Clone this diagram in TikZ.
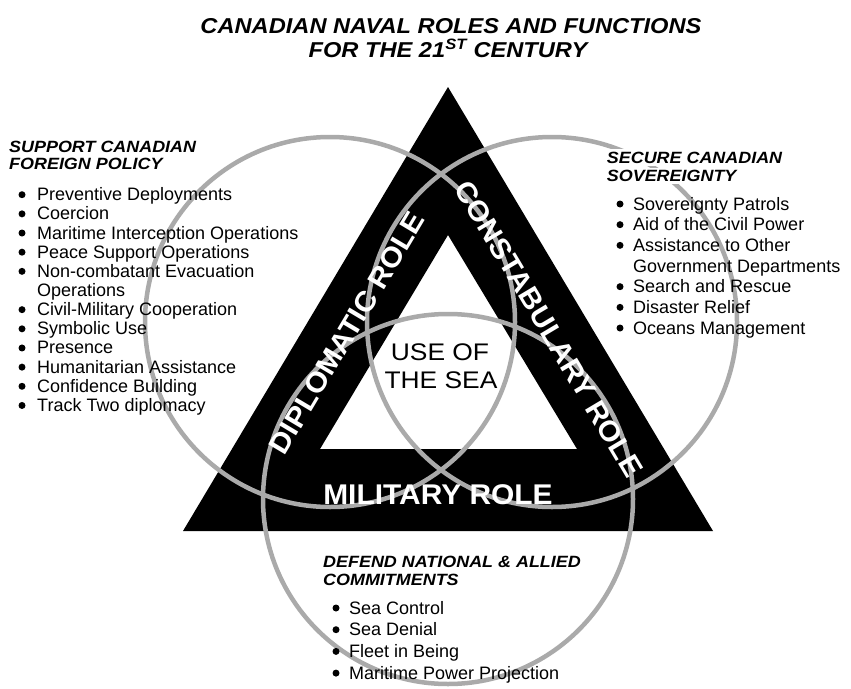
\documentclass[tikz,border=0pt]{standalone}
\usepackage{fontspec}
\setmainfont{Liberation Sans}
\newfontfamily\headfont[FakeStretch=1.1]{Liberation Sans}
\newfontfamily\rolefont[FakeStretch=1.05]{Liberation Sans}
\newfontfamily\seafont[FakeStretch=1.1]{Liberation Sans}
\definecolor{ring}{RGB}{170,170,170}
\begin{document}
\begin{tikzpicture}[x=1pt,y=-1pt,
 titletext/.style={font=\headfont\bfseries\itshape\fontsize{21.5}{24}\selectfont, anchor=base, inner sep=0pt},
 headtext/.style={font=\headfont\bfseries\itshape\fontsize{16.3}{18}\selectfont, anchor=base west, fill=white, inner sep=2.5pt},
 itemtext/.style={font=\fontsize{18}{20}\selectfont, anchor=base west, inner sep=0pt},
 bul/.style={circle, fill=black, inner sep=0pt, minimum size=7pt},
 roletext/.style={font=\rolefont\bfseries\fontsize{28.5}{30}\selectfont, text=white, inner sep=0pt},
 seatext/.style={font=\seafont\fontsize{24}{28}\selectfont, anchor=base, inner sep=0pt},
 ringline/.style={draw=ring, line width=4.5pt}]
\useasboundingbox (0,0) rectangle (851,688);
\fill[white] (0,0) rectangle (851,688);
% triangle band
\fill[black, even odd rule] (448,87) -- (183,531) -- (713,531) -- cycle
  (448,235) -- (320,449) -- (577,449) -- cycle;
% circles
\draw[ringline] (330,322) circle[radius=185];
\draw[ringline] (552,322) circle[radius=185];
\draw[ringline] (448,499) circle[radius=185];
% role labels
\node[roletext, rotate=59.2] (dip) at (347,333) {DIPLOMATIC ROLE};
\node[roletext, rotate=-59.2] (con) at (549,329) {CONSTABULARY ROLE};
\node[roletext, anchor=base] (mil) at (438,504) {MILITARY ROLE};
\node[seatext] (use1) at (440,360) {USE OF};
\node[seatext] (use2) at (441,388) {THE SEA};
% title
\node[titletext] (t1) at (451,33) {CANADIAN NAVAL ROLES AND FUNCTIONS};
\node[titletext] (t2) at (448,57) {FOR THE 21\textsuperscript{ST} CENTURY};
% headings
\node[headtext] (lh1) at (6.5,152) {SUPPORT CANADIAN};
\node[headtext] (lh2) at (6.5,169) {FOREIGN POLICY};
\node[headtext] (rh1) at (604.2,163) {SECURE CANADIAN};
\node[headtext] (rh2) at (604.2,181.5) {SOVEREIGNTY};
\node[headtext] (bh1) at (320.5,567) {DEFEND NATIONAL \& ALLIED};
\node[headtext] (bh2) at (320.5,585) {COMMITMENTS};
% left list
\foreach \b/\t [count=\i from 0] in {1/Preventive Deployments, 1/Coercion, 1/Maritime Interception Operations, 1/Peace Support Operations, 1/Non-combatant Evacuation, 0/Operations, 1/Civil-Military Cooperation, 1/Symbolic Use, 1/Presence, 1/Humanitarian Assistance, 1/Confidence Building, 1/Track Two diplomacy}{
  \pgfmathsetmacro\yy{200.7+19.16*\i}
  \node[itemtext] (L\i) at (37,\yy) {\t};
  \ifnum\b=1 \node[bul] (LB\i) at (22,\yy-6) {};\fi
}
% right list
\foreach \b/\t [count=\i from 0] in {1/Sovereignty Patrols, 1/Aid of the Civil Power, 1/Assistance to Other, 0/Government Departments, 1/Search and Rescue, 1/Disaster Relief, 1/Oceans Management}{
  \pgfmathsetmacro\yy{210+20.67*\i}
  \node[itemtext] (R\i) at (633,\yy) {\t};
  \ifnum\b=1 \node[bul] (RB\i) at (620,\yy-6) {};\fi
}
% bottom list
\foreach \b/\t [count=\i from 0] in {1/Sea Control, 1/Sea Denial, 1/Fleet in Being, 1/Maritime Power Projection}{
  \pgfmathsetmacro\yy{614+21.7*\i}
  \node[itemtext] (B\i) at (349,\yy) {\t};
  \ifnum\b=1 \node[bul] (BB\i) at (336,\yy-6) {};\fi
}
\end{tikzpicture}
\end{document}
